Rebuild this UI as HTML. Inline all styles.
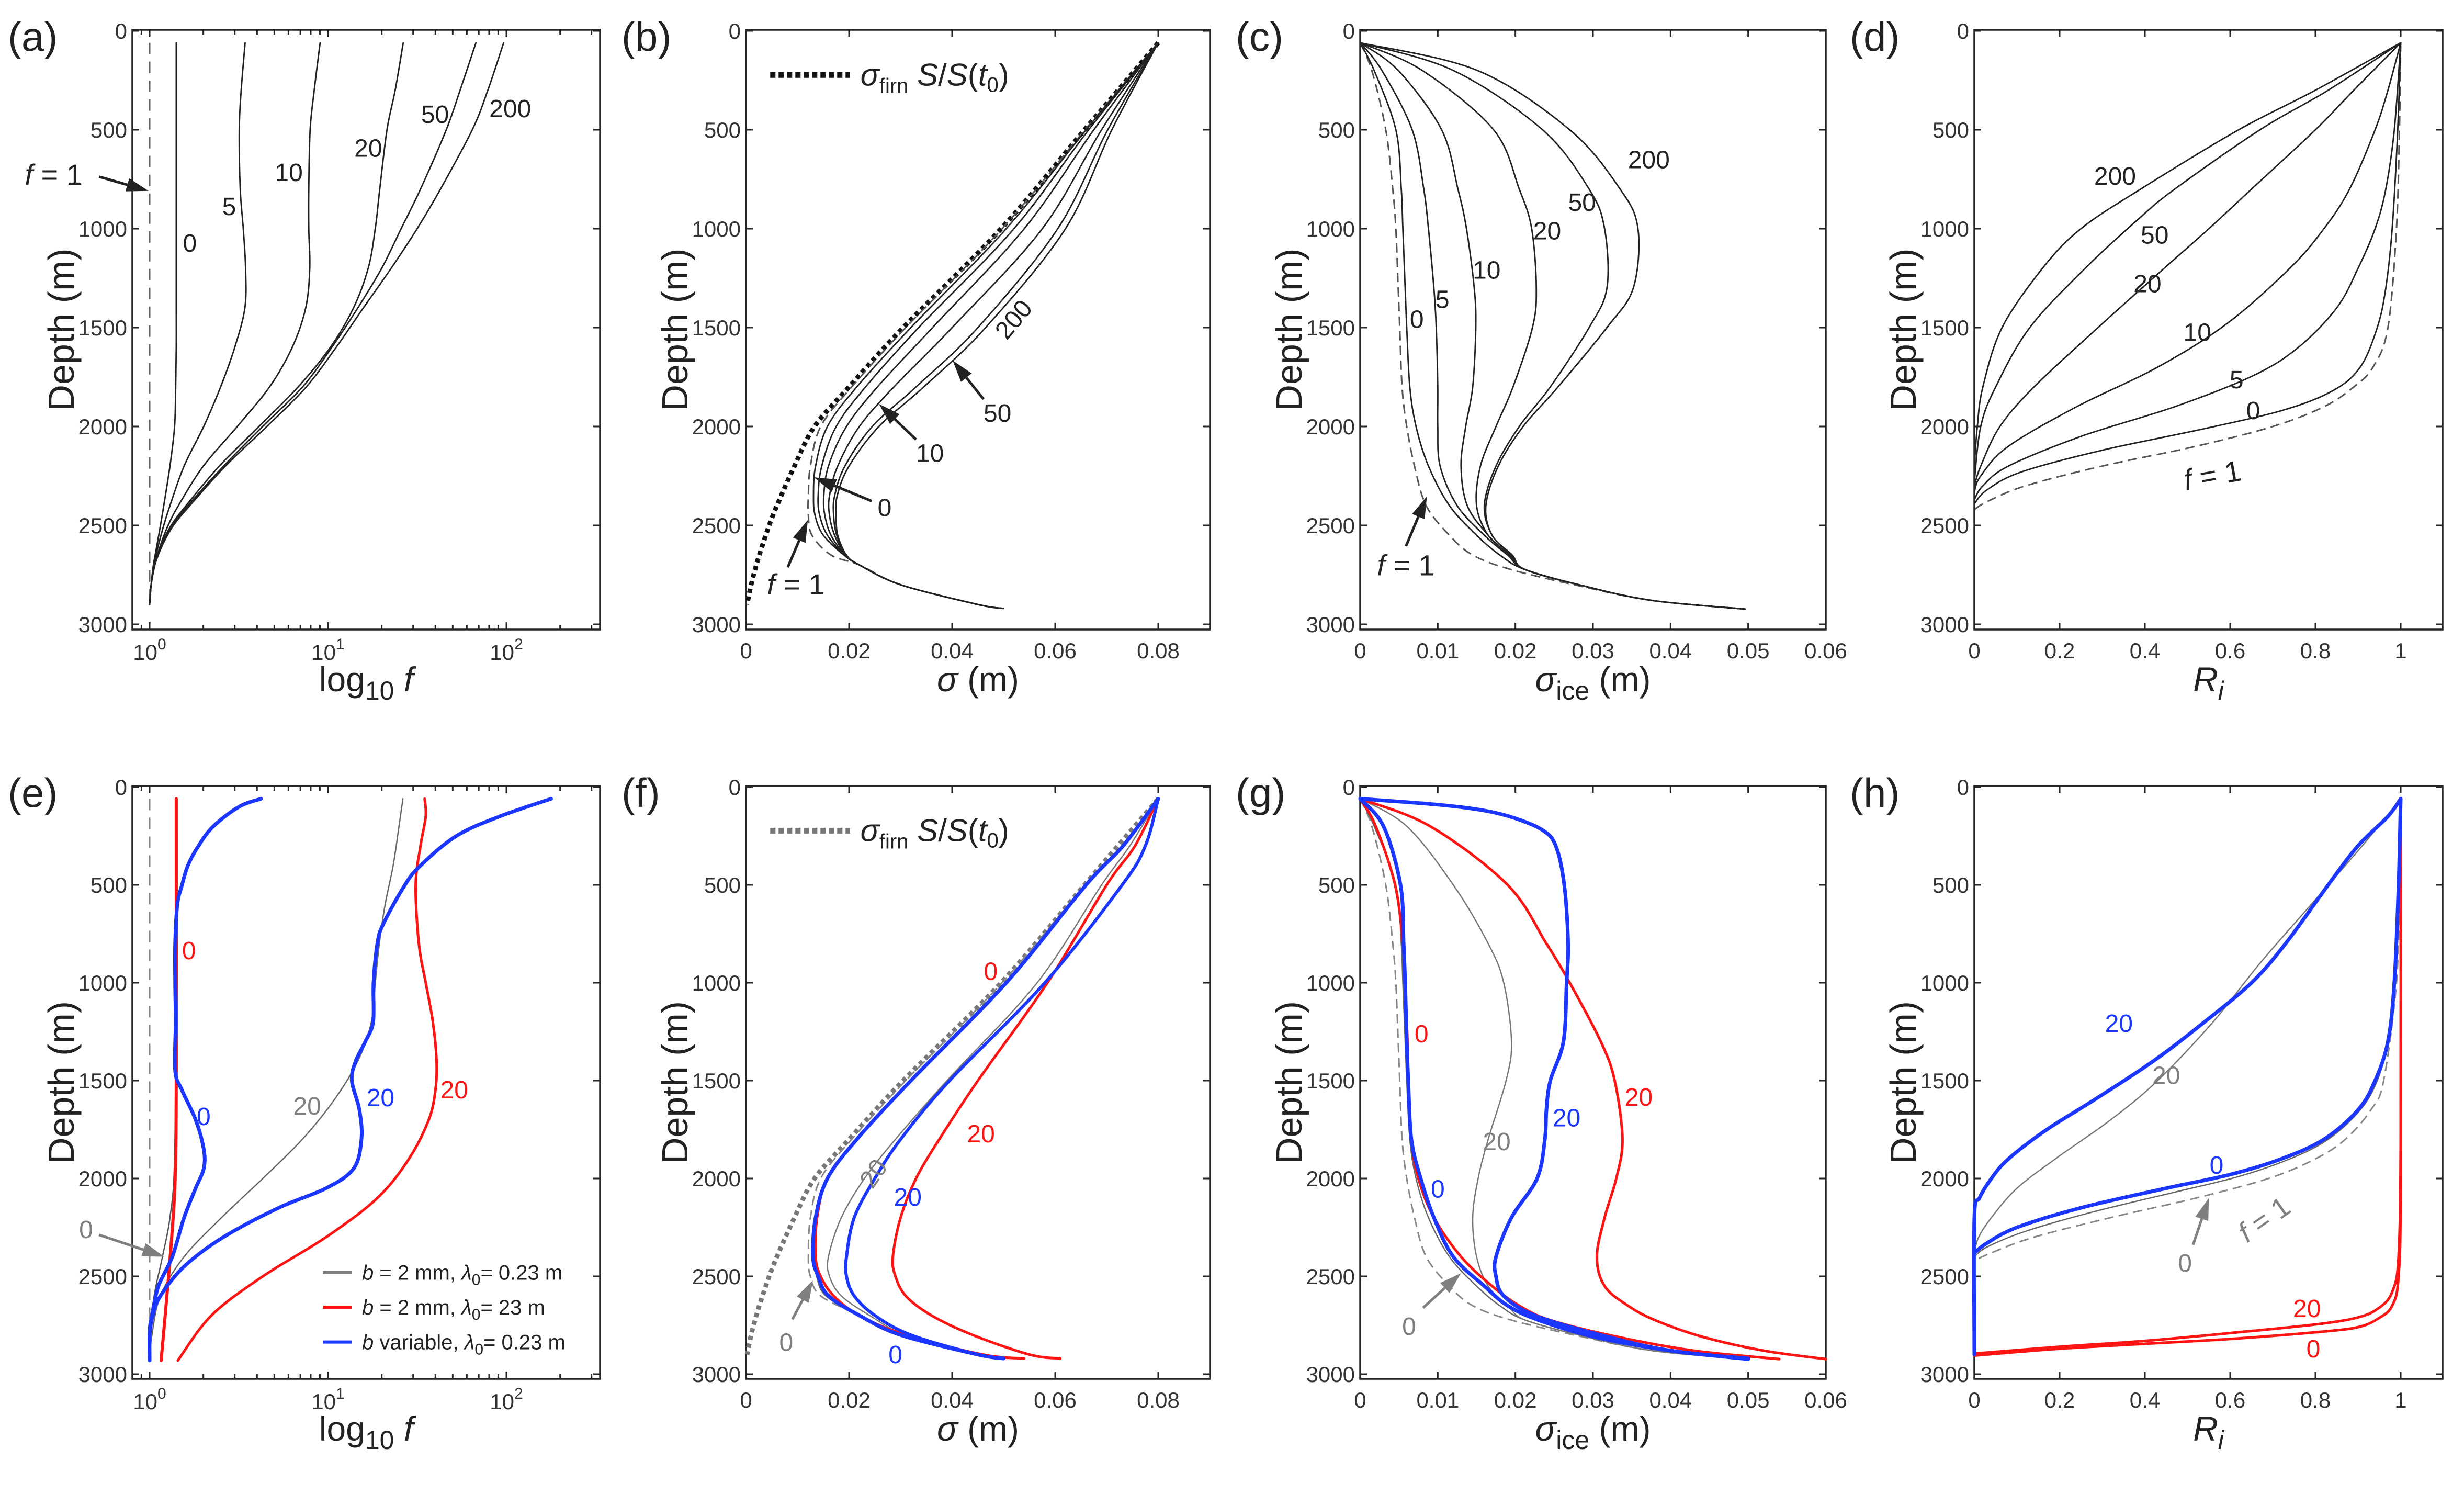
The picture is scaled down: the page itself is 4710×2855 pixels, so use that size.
<!DOCTYPE html>
<html><head><meta charset="utf-8"><title>Depth profiles</title>
<style>
html,body{margin:0;padding:0;background:#fff;}
svg{display:block;font-family:"Liberation Sans",Arial,sans-serif;}
</style></head>
<body>
<svg id="chart" xmlns="http://www.w3.org/2000/svg" width="4710" height="2855" viewBox="0 0 4710 2855"></svg>
<script>
// ---------- DATA ----------
// Panel (a): f vs depth
const aDepth=[60,300,500,800,1000,1200,1400,1600,1800,2000,2200,2400,2500,2600,2700,2800,2900];
const aF1=[1,1,1,1,1,1,1,1,1,1,1,1,1,1,1,1,1];
const aF0=[1.41,1.41,1.41,1.41,1.41,1.41,1.41,1.41,1.40,1.38,1.30,1.20,1.15,1.10,1.05,1.02,1.0];
const aF5=[3.43,3.26,3.18,3.22,3.35,3.45,3.42,3.0,2.5,2.01,1.56,1.30,1.2,1.12,1.06,1.02,1.0];
const aF10=[9.03,8.37,7.94,7.8,7.8,7.9,7.5,6.3,4.7,3.1,2.0,1.45,1.27,1.15,1.07,1.02,1.0];
const aF20=[26.4,23.8,21.4,19.5,18.4,16.8,13.9,10.3,6.8,4.1,2.46,1.6,1.32,1.16,1.07,1.02,1.0];
const aF50=[67.5,55,46,33,25.7,20,14.7,10.5,7.2,4.3,2.6,1.64,1.34,1.17,1.07,1.02,1.0];
const aF200=[96.5,78.7,64.4,42.7,31.6,22.6,15.8,11.1,7.55,4.54,2.66,1.68,1.36,1.18,1.07,1.02,1.0];
// Panel (b): sigma
const firnDepth=[60,500,1000,1500,1800,2000,2200,2400,2500,2600,2700,2800,2900];
const firnSigma=[0.080,0.0657,0.0495,0.0305,0.020,0.0133,0.0094,0.0060,0.0045,0.0032,0.0020,0.0010,0.0002];
const bDepth=[60,500,1000,1500,1800,2000,2200,2350,2450,2550,2650,2700,2800,2900,2920];
const bF1=[0.08,0.0658,0.0497,0.031,0.0205,0.0145,0.0125,0.0121,0.0121,0.0128,0.0165,0.022,0.030,0.045,0.050];
const bF0=[0.08,0.066,0.0505,0.032,0.0215,0.0158,0.0135,0.0131,0.0134,0.015,0.019,0.022,0.030,0.045,0.050];
const bF5=[0.08,0.0665,0.052,0.0335,0.0232,0.0175,0.0147,0.014,0.0143,0.0158,0.0191,0.022,0.030,0.045,0.050];
const bF10=[0.08,0.0675,0.054,0.0362,0.0255,0.0195,0.016,0.0151,0.0153,0.0165,0.0192,0.022,0.030,0.045,0.050];
const bF20=[0.08,0.069,0.0575,0.040,0.0287,0.022,0.0178,0.0162,0.0162,0.0172,0.0193,0.022,0.030,0.045,0.050];
const bF50=[0.08,0.0702,0.0605,0.045,0.033,0.0245,0.0192,0.0172,0.017,0.0176,0.0194,0.022,0.030,0.045,0.050];
const bF200=[0.08,0.071,0.062,0.0465,0.0345,0.0258,0.0200,0.0177,0.0175,0.0178,0.0195,0.022,0.030,0.045,0.050];
// Panel (c): sigma_ice
const cDepth=[60,200,500,800,1000,1300,1500,1800,2000,2200,2400,2550,2650,2724,2808,2880,2923];
const cF1=[0,0.0015,0.0033,0.0042,0.0046,0.0049,0.0051,0.0054,0.006,0.0070,0.0085,0.0115,0.0145,0.0195,0.0285,0.0377,0.0496];
const cF0=[0,0.0018,0.0046,0.0053,0.0055,0.0058,0.006,0.0064,0.0072,0.0088,0.0115,0.015,0.018,0.0213,0.029,0.0377,0.0496];
const cF5=[0,0.0028,0.0067,0.0082,0.0088,0.0095,0.0098,0.0100,0.0100,0.0103,0.0125,0.016,0.019,0.0213,0.029,0.0377,0.0496];
const cF10=[0,0.0049,0.0105,0.0126,0.0137,0.0147,0.0149,0.0145,0.0136,0.013,0.0138,0.0165,0.0192,0.0213,0.029,0.0377,0.0496];
const cF20=[0,0.008,0.0172,0.0205,0.0221,0.0227,0.0222,0.0197,0.0175,0.0155,0.015,0.0165,0.0193,0.0213,0.029,0.0377,0.0496];
const cF50=[0,0.012,0.0235,0.0295,0.0315,0.0318,0.0295,0.0245,0.0205,0.0175,0.016,0.017,0.0195,0.0213,0.029,0.0377,0.0496];
const cF200=[0,0.0151,0.027,0.0335,0.0358,0.0352,0.0318,0.0255,0.021,0.0178,0.0162,0.017,0.0196,0.0213,0.029,0.0377,0.0496];
// Panel (d): R_i
const dD200=[60,300,500,800,1000,1200,1500,1800,2000,2200];
const dR200=[1,0.8,0.62,0.39,0.25,0.16,0.065,0.02,0.007,0];
const dD50=[60,300,500,800,953,1200,1500,1800,2000,2280];
const dR50=[1,0.83,0.67,0.47,0.384,0.26,0.13,0.05,0.015,0];
const dD20=[60,300,500,800,1000,1216,1500,1800,2000,2200,2300];
const dR20=[1,0.89,0.80,0.65,0.55,0.437,0.29,0.14,0.06,0.015,0];
const dD10=[60,300,500,800,1000,1200,1479,1700,1900,2100,2250,2330];
const dR10=[1,0.97,0.94,0.88,0.82,0.74,0.593,0.43,0.24,0.08,0.015,0];
const dD5=[60,500,800,1000,1200,1400,1600,1743,1900,2050,2200,2300,2370];
const dR5=[1,0.985,0.965,0.94,0.9,0.85,0.76,0.654,0.47,0.25,0.08,0.02,0];
const dD0=[60,500,1000,1300,1500,1700,1820,1920,2020,2120,2230,2320,2390];
const dR0=[1,0.993,0.98,0.965,0.945,0.905,0.84,0.72,0.52,0.3,0.11,0.03,0];
const dDF1=[60,500,1000,1500,1700,1800,1900,2000,2100,2200,2300,2380,2420];
const dRF1=[1,0.997,0.99,0.97,0.935,0.89,0.82,0.7,0.52,0.3,0.12,0.03,0];
// Panel (e)
const eDepth=[60,150,300,500,800,1000,1200,1400,1550,1700,1900,2100,2300,2500,2700,2930];
const eRed20=[34.8,35.3,33,31,32.3,35.3,38.7,40.6,40,36.7,28.4,18.9,9.75,4.31,2.22,1.44];
const eRed0D=[60,1500,2000,2300,2600,2930];
const eRed0=[1.41,1.41,1.39,1.33,1.25,1.16];
const eGray0D=[60,1000,1900,2200,2400,2600,2800,2930];
const eGray0=[1.41,1.41,1.38,1.3,1.18,1.06,1.01,1.0];
const eGray20D=[60,200,400,600,800,1000,1200,1400,1600,1800,2000,2200,2400,2600,2800,2930];
const eGray20=[26.3,25,23.2,20.9,19.4,18.4,17.5,14.7,10.8,7.18,4.31,2.53,1.56,1.15,1.03,1.0];
const eBlue0D=[60,100,200,300,400,500,600,800,1000,1200,1450,1550,1700,1850,1950,2050,2200,2400,2550,2700,2780,2930];
const eBlue0=[4.21,3.18,2.28,1.88,1.64,1.52,1.43,1.39,1.39,1.40,1.39,1.52,1.81,2.01,2.01,1.81,1.56,1.34,1.12,1.03,1.0,1.0];
const eBlue20D=[60,150,250,400,500,700,800,1000,1200,1300,1400,1500,1650,1800,1950,2050,2150,2300,2450,2600,2700,2800,2930];
const eBlue20=[178,91.7,52.4,33.1,27,20.4,18.9,18,17.9,16.2,14.3,13.6,15,15.4,13.9,9.75,5.29,2.59,1.56,1.15,1.04,1.0,1.0];
// Panel (f)
const fDepth=[60,300,500,1000,1500,1800,2000,2200,2400,2500,2600,2700,2800,2900,2920];
const fGrayDash=[0.08,0.073,0.0658,0.0497,0.031,0.0205,0.0145,0.0125,0.0121,0.0125,0.0145,0.022,0.030,0.045,0.050];
const fGray0=[0.08,0.0732,0.066,0.0505,0.032,0.0215,0.0158,0.0135,0.0132,0.0137,0.0155,0.022,0.030,0.045,0.050];
const fGray20=[0.08,0.0745,0.069,0.0565,0.039,0.029,0.023,0.0185,0.016,0.0162,0.0185,0.024,0.031,0.045,0.050];
const fRed0=[0.08,0.0732,0.066,0.0505,0.032,0.0215,0.0158,0.0138,0.0135,0.0145,0.017,0.022,0.031,0.046,0.054];
const fRed20=[0.08,0.0755,0.070,0.0585,0.045,0.0375,0.033,0.030,0.0285,0.029,0.031,0.036,0.044,0.055,0.061];
const fBlue0=[0.08,0.0732,0.066,0.0505,0.032,0.0215,0.0158,0.0135,0.013,0.014,0.016,0.022,0.030,0.045,0.050];
const fBlue20=[0.08,0.0775,0.073,0.058,0.0395,0.030,0.025,0.021,0.0195,0.0195,0.021,0.025,0.032,0.045,0.050];
// Panel (g)
const gRed0=[0,0.002,0.0045,0.0055,0.0058,0.0061,0.0062,0.0066,0.0075,0.0095,0.013,0.017,0.0205,0.0245,0.033,0.043,0.054];
const gRed20=[0,0.009,0.019,0.024,0.027,0.031,0.0328,0.0338,0.033,0.0315,0.0305,0.0315,0.0345,0.038,0.044,0.052,0.060];
const gGray20=[0,0.006,0.012,0.0165,0.0185,0.0195,0.0188,0.0165,0.0152,0.0145,0.015,0.0165,0.019,0.0213,0.029,0.0377,0.0496];
const gBlue0=[0,0.003,0.0052,0.0056,0.0058,0.006,0.0062,0.0066,0.0078,0.0095,0.012,0.016,0.019,0.023,0.030,0.040,0.050];
const gBlue20D=[60,90,120,160,220,300,500,800,1000,1300,1500,1650,1800,2000,2200,2400,2500,2600,2700,2800,2880,2920];
const gBlue20=[0,0.010,0.016,0.020,0.0235,0.0252,0.0263,0.0268,0.0266,0.0262,0.0245,0.024,0.0238,0.0228,0.0195,0.0175,0.0175,0.0185,0.0225,0.031,0.040,0.050];
// Panel (h)
const hBlue20D=[60,150,300,500,800,1000,1200,1400,1600,1750,1900,2000,2100,2200,2900];
const hBlue20=[1,0.97,0.9,0.83,0.73,0.65,0.54,0.42,0.28,0.17,0.08,0.04,0.012,0,0];
const hGray20D=[60,300,600,900,1200,1500,1700,1900,2050,2200,2300,2380];
const hGray20=[1,0.91,0.79,0.67,0.56,0.43,0.32,0.19,0.10,0.04,0.01,0];
const hBlue0D=[60,500,1000,1300,1500,1650,1800,1900,1980,2050,2150,2250,2330,2380];
const hBlue0=[1,0.995,0.985,0.97,0.94,0.9,0.82,0.72,0.6,0.45,0.25,0.1,0.03,0];
const hGray0D=[60,500,1000,1300,1500,1650,1800,1900,1990,2070,2170,2270,2350,2400];
const hGray0=[1,0.995,0.985,0.97,0.945,0.905,0.83,0.74,0.62,0.47,0.28,0.12,0.03,0];
const hDashD=[60,500,1000,1500,1650,1800,1900,2000,2100,2200,2300,2380,2420];
const hDash=[1,0.997,0.99,0.96,0.93,0.87,0.8,0.69,0.52,0.32,0.14,0.04,0];
const hRed0D=[60,2000,2500,2650,2712,2760,2786,2820,2845,2870,2905];
const hRed0=[1,1,0.995,0.98,0.95,0.9,0.8,0.6,0.4,0.2,0];
const hRed20D=[60,1800,2400,2580,2660,2710,2746,2790,2830,2860,2895];
const hRed20=[1,1,0.995,0.98,0.95,0.9,0.8,0.6,0.4,0.2,0];
// Tick labels
const depthTicks=[0,500,1000,1500,2000,2500,3000];
const sigmaTicks=[0,0.02,0.04,0.06,0.08];
const iceTicks=[0,0.01,0.02,0.03,0.04,0.05,0.06];
const riTicks=[0,0.2,0.4,0.6,0.8,1];
const logMajor=[1,10,100];
const logMinor=[0.9,2,3,4,5,6,7,8,9,20,30,40,50,60,70,80,90,200,300];

// ---------- HELPERS ----------
const NS='http://www.w3.org/2000/svg';
const svg=document.getElementById('chart');
function mk(tag,attrs,parent){const e=document.createElementNS(NS,tag);for(const k in attrs)e.setAttribute(k,attrs[k]);(parent||svg).appendChild(e);return e;}
const ROWS=[{top:57,y0:59,y3:1193,bot:1203},{top:1502,y0:1504,y3:2626,bot:2635}];
const COLS=[
 {left:253,right:1147,fx:v=>286+341*Math.log10(v),type:'log'},
 {left:1426,right:2313,fx:v=>1426+9850*v,type:'sig'},
 {left:2600,right:3490,fx:v=>2600+14833*v,type:'ice'},
 {left:3774,right:4669,fx:v=>3774+815*v,type:'ri'}];
function fyOf(row){return d=>row.y0+d*(row.y3-row.y0)/3000;}
function pathD(pts){
 if(pts.length<2)return '';
 let d='M'+pts[0][0].toFixed(1)+','+pts[0][1].toFixed(1);
 for(let i=0;i<pts.length-1;i++){
  const p0=pts[Math.max(0,i-1)],p1=pts[i],p2=pts[i+1],p3=pts[Math.min(pts.length-1,i+2)];
  const c1x=p1[0]+(p2[0]-p0[0])/6,c1y=p1[1]+(p2[1]-p0[1])/6;
  const c2x=p2[0]-(p3[0]-p1[0])/6,c2y=p2[1]-(p3[1]-p1[1])/6;
  d+=' C'+c1x.toFixed(1)+','+c1y.toFixed(1)+' '+c2x.toFixed(1)+','+c2y.toFixed(1)+' '+p2[0].toFixed(1)+','+p2[1].toFixed(1);
 }
 return d;
}
function series(g,P,depths,vals,stroke,width,dash,name){
 const pts=depths.map((d,i)=>[P.fx(vals[i]),P.fy(d)]);
 const p=mk('path',{d:pathD(pts),fill:'none',stroke:stroke,'stroke-width':width,'stroke-linejoin':'round','stroke-linecap':dash?'butt':'round'},g);
 if(dash)p.setAttribute('stroke-dasharray',dash);
 
 
 return p;
}
function label(g,P,v,d,txt,color,size,name,rot){
 const x=P.fx(v),y=P.fy(d);
 const t=mk('text',{x:x,y:y,'text-anchor':'middle','dominant-baseline':'central','font-size':size,fill:color},g);
 if(rot)t.setAttribute('transform','rotate('+rot+' '+x+' '+y+')');
 t.textContent=txt;
 
 
 return t;
}
function f1label(g,P,v,d,color,size,name,rot){
 const x=P.fx(v),y=P.fy(d);
 const t=mk('text',{x:x,y:y,'text-anchor':'middle','dominant-baseline':'central','font-size':size,fill:color},g);
 if(rot)t.setAttribute('transform','rotate('+rot+' '+x+' '+y+')');
 const a=mk('tspan',{'font-style':'italic'},t);a.textContent='f';
 const b=mk('tspan',{},t);b.textContent=' = 1';
 
 
}
function arrow(g,P,v1,d1,v2,d2,color,name){
 const x1=P.fx(v1),y1=P.fy(d1),x2=P.fx(v2),y2=P.fy(d2);
 const ang=Math.atan2(y2-y1,x2-x1),L=42,Wd=13;
 const bx=x2-L*Math.cos(ang),by=y2-L*Math.sin(ang);
 const grp=mk('g',{},g);
 
 
 mk('line',{x1:x1,y1:y1,x2:bx,y2:by,stroke:color,'stroke-width':5},grp);
 mk('polygon',{points:x2+','+y2+' '+(bx+Wd*Math.sin(ang))+','+(by-Wd*Math.cos(ang))+' '+(bx-Wd*Math.sin(ang))+','+(by+Wd*Math.cos(ang)),fill:color},grp);
}
function axes(P,ci,ri,letter){
 const g=mk('g',{});
 
 
 P.g=g;
 const box=mk('rect',{x:P.left,y:P.top,width:P.right-P.left,height:P.bot-P.top,fill:'none',stroke:'#262626','stroke-width':3.5},g);
 
 
 const tk=mk('g',{stroke:'#262626','stroke-width':3},g);
 
 
 const tl=mk('g',{'font-size':42,fill:'#333'},g);
 
 
 depthTicks.forEach(d=>{const y=P.fy(d);
  mk('line',{x1:P.left,y1:y,x2:P.left+13,y2:y},tk);mk('line',{x1:P.right,y1:y,x2:P.right-13,y2:y},tk);
  const t=mk('text',{x:P.left-10,y:y+15,'text-anchor':'end'},tl);t.textContent=d;});
 let xt;
 if(P.type==='log'){
  logMinor.forEach(v=>{const x=P.fx(v);mk('line',{x1:x,y1:P.bot,x2:x,y2:P.bot-9},tk);mk('line',{x1:x,y1:P.top,x2:x,y2:P.top+9},tk);});
  logMajor.forEach((v,i)=>{const x=P.fx(v);mk('line',{x1:x,y1:P.bot,x2:x,y2:P.bot-14},tk);mk('line',{x1:x,y1:P.top,x2:x,y2:P.top+14},tk);
   const t=mk('text',{x:x,y:P.bot+58,'text-anchor':'middle'},tl);const a=mk('tspan',{},t);a.textContent='10';const b=mk('tspan',{dy:-20,'font-size':30},t);b.textContent=String(i);});
 } else {
  xt=P.type==='sig'?sigmaTicks:(P.type==='ice'?iceTicks:riTicks);
  xt.forEach(v=>{const x=P.fx(v);mk('line',{x1:x,y1:P.bot,x2:x,y2:P.bot-13},tk);mk('line',{x1:x,y1:P.top,x2:x,y2:P.top+13},tk);
   const t=mk('text',{x:x,y:P.bot+55,'text-anchor':'middle'},tl);t.textContent=String(v);});
 }
 const pl=mk('text',{x:P.left-238,y:P.top+40,'font-size':78,fill:'#222'},g);
 pl.textContent='('+letter+')';
 
 
 const cy=(P.top+P.bot)/2,lx=P.left-112;
 const yl=mk('text',{x:lx,y:cy,'text-anchor':'middle','font-size':70,fill:'#222',transform:'rotate(-90 '+lx+' '+cy+')'},g);
 yl.textContent='Depth (m)';
 
 
 const cx=(P.left+P.right)/2,by=P.bot+118;
 const xl=mk('text',{x:cx,y:by,'text-anchor':'middle','font-size':66,fill:'#222'},g);
 
 
 if(P.type==='log'){const a=mk('tspan',{},xl);a.textContent='log';const b=mk('tspan',{dy:16,'font-size':50},xl);b.textContent='10';const c=mk('tspan',{dy:-16,'font-style':'italic'},xl);c.textContent=' f';}
 else if(P.type==='sig'){const a=mk('tspan',{'font-style':'italic'},xl);a.textContent='σ';const b=mk('tspan',{},xl);b.textContent=' (m)';}
 else if(P.type==='ice'){const a=mk('tspan',{'font-style':'italic'},xl);a.textContent='σ';const b=mk('tspan',{dy:16,'font-size':50},xl);b.textContent='ice';const c=mk('tspan',{dy:-16},xl);c.textContent=' (m)';}
 else {const a=mk('tspan',{'font-style':'italic'},xl);a.textContent='R';const b=mk('tspan',{dy:16,'font-size':50,'font-style':'italic'},xl);b.textContent='i';}
 return g;
}
function panel(ci,ri,letter){
 const C=COLS[ci],R=ROWS[ri];
 const P={left:C.left,right:C.right,fx:C.fx,type:C.type,top:R.top,bot:R.bot,fy:fyOf(R)};
 axes(P,ci,ri,letter);
 return P;
}
function firnLegend(P,color){
 const g=mk('g',{},P.g);
 
 
 const y=P.fy(223);
 mk('line',{x1:P.fx(0.0047),y1:y,x2:P.fx(0.0202),y2:y,stroke:color,'stroke-width':11,'stroke-dasharray':'10 6'},g);
 const t=mk('text',{x:P.fx(0.0222),y:y+20,'font-size':60,fill:'#222'},g);
 const a=mk('tspan',{'font-style':'italic'},t);a.textContent='σ';
 const b=mk('tspan',{dy:14,'font-size':40},t);b.textContent='firn';
 const c=mk('tspan',{dy:-14,'font-style':'italic'},t);c.textContent=' S';
 const d=mk('tspan',{},t);d.textContent='/';
 const e=mk('tspan',{'font-style':'italic'},t);e.textContent='S';
 const f=mk('tspan',{},t);f.textContent='(';
 const h=mk('tspan',{'font-style':'italic'},t);h.textContent='t';
 const i=mk('tspan',{dy:12,'font-size':40},t);i.textContent='0';
 const j=mk('tspan',{dy:-12},t);j.textContent=')';
}
const K='#222',GR='#7f7f7f',RD='#ff1414',BL='#1a36ff';

// ---------- (a) ----------
let P=panel(0,0,'a');
series(P.g,P,aDepth,aF1,'#666',3,'22 14','line-f1');
[[aF0,'0'],[aF5,'5'],[aF10,'10'],[aF20,'20'],[aF50,'50'],[aF200,'200']].forEach(s=>series(P.g,P,aDepth,s[0],K,2.8,null,'line-f'+s[1]));
label(P.g,P,1.68,1075,'0',K,48,'label-0');label(P.g,P,2.79,890,'5',K,48,'label-5');
label(P.g,P,6.03,718,'10',K,48,'label-10');label(P.g,P,16.8,595,'20',K,48,'label-20');
label(P.g,P,39.8,425,'50',K,48,'label-50');label(P.g,P,105,395,'200',K,48,'label-200');
f1label(P.g,P,0.29,725,K,56,'label-f1');
arrow(P.g,P,0.52,737,0.985,809,K,'arrow-f1');

// ---------- (b) ----------
P=panel(1,0,'b');
series(P.g,P,firnDepth,firnSigma,'#111',9,'8 7','line-firn');
series(P.g,P,bDepth,bF1,'#555',3,'18 10','line-f1');
[[bF0,'0'],[bF5,'5'],[bF10,'10'],[bF20,'20'],[bF50,'50'],[bF200,'200']].forEach(s=>series(P.g,P,bDepth,s[0],K,2.8,null,'line-f'+s[1]));
firnLegend(P,'#111');
label(P.g,P,0.052,1460,'200',K,48,'label-200',-50);
label(P.g,P,0.0488,1935,'50',K,48,'label-50');arrow(P.g,P,0.0461,1862,0.0401,1666,K,'arrow-50');
label(P.g,P,0.0357,2138,'10',K,48,'label-10');arrow(P.g,P,0.033,2066,0.0258,1886,K,'arrow-10');
label(P.g,P,0.0269,2413,'0',K,48,'label-0');arrow(P.g,P,0.0244,2377,0.0132,2257,K,'arrow-0');
f1label(P.g,P,0.0097,2796,K,56,'label-f1');arrow(P.g,P,0.0081,2712,0.012,2473,K,'arrow-f1');

// ---------- (c) ----------
P=panel(2,0,'c');
series(P.g,P,cDepth,cF1,'#555',3,'18 10','line-f1');
[[cF0,'0'],[cF5,'5'],[cF10,'10'],[cF20,'20'],[cF50,'50'],[cF200,'200']].forEach(s=>series(P.g,P,cDepth,s[0],K,2.8,null,'line-f'+s[1]));
label(P.g,P,0.0372,654,'200',K,48,'label-200');label(P.g,P,0.0286,869,'50',K,48,'label-50');
label(P.g,P,0.0241,1013,'20',K,48,'label-20');label(P.g,P,0.0163,1211,'10',K,48,'label-10');
label(P.g,P,0.0106,1360,'5',K,48,'label-5');label(P.g,P,0.0073,1460,'0',K,48,'label-0');
f1label(P.g,P,0.0059,2700,K,56,'label-f1');arrow(P.g,P,0.0059,2605,0.0086,2353,K,'arrow-f1');

// ---------- (d) ----------
P=panel(3,0,'d');
series(P.g,P,dDF1,dRF1,'#555',3,'18 10','line-f1');
[[dD0,dR0,'0'],[dD5,dR5,'5'],[dD10,dR10,'10'],[dD20,dR20,'20'],[dD50,dR50,'50'],[dD200,dR200,'200']].forEach(s=>series(P.g,P,s[0],s[1],K,2.8,null,'line-f'+s[2]));
label(P.g,P,0.33,737,'200',K,48,'label-200');label(P.g,P,0.423,1035,'50',K,48,'label-50');
label(P.g,P,0.406,1280,'20',K,48,'label-20');label(P.g,P,0.523,1527,'10',K,48,'label-10');
label(P.g,P,0.615,1766,'5',K,48,'label-5');label(P.g,P,0.654,1922,'0',K,48,'label-0');
f1label(P.g,P,0.558,2245,K,56,'label-f1',-10);

// ---------- (e) ----------
P=panel(0,1,'e');
series(P.g,P,aDepth,aF1,'#888',3,'22 14','line-f1');
series(P.g,P,eGray0D,eGray0,'#555',2.5,null,'gray-0');
series(P.g,P,eGray20D,eGray20,'#666',2.5,null,'gray-20');
series(P.g,P,eRed0D,eRed0,RD,6,null,'red-0');
series(P.g,P,eDepth,eRed20,RD,5,null,'red-20');
series(P.g,P,eBlue0D,eBlue0,BL,7,null,'blue-0');
series(P.g,P,eBlue20D,eBlue20,BL,7,null,'blue-20');
label(P.g,P,1.66,838,'0',RD,48,'label-red-0');label(P.g,P,2.01,1686,'0',BL,48,'label-blue-0');
label(P.g,P,7.64,1632,'20',GR,48,'label-gray-20');label(P.g,P,19.7,1589,'20',BL,48,'label-blue-20');
label(P.g,P,51,1550,'20',RD,48,'label-red-20');label(P.g,P,0.44,2264,'0',GR,48,'label-gray-0');
arrow(P.g,P,0.52,2288,1.21,2400,GR,'arrow-gray-0');
(function(){
 const lg=mk('g',{},P.g);
 
 
 const items=[[GR,'2 mm','0.23 m',false],[RD,'2 mm','23 m',false],[BL,'','0.23 m',true]];
 const depths=[2480,2658,2836];
 items.forEach((it,i)=>{
  const y=P.fy(depths[i]);
  const ln=mk('line',{x1:617,y1:y,x2:672,y2:y,stroke:it[0],'stroke-width':6},lg);
  
  
  const t=mk('text',{x:692,y:y+14,'font-size':40,fill:'#222'},lg);
  
  
  const a=mk('tspan',{'font-style':'italic'},t);a.textContent='b';
  const b=mk('tspan',{},t);b.textContent=it[3]?' variable, ':' = '+it[1]+', ';
  const c=mk('tspan',{'font-style':'italic'},t);c.textContent='λ';
  const d=mk('tspan',{dy:10,'font-size':30},t);d.textContent='0';
  const e=mk('tspan',{dy:-10},t);e.textContent='= '+it[2];
 });
})();

// ---------- (f) ----------
P=panel(1,1,'f');
series(P.g,P,firnDepth,firnSigma,'#777',9,'8 7','line-firn');
series(P.g,P,fDepth,fGrayDash,'#888',3,'18 10','gray-f1');
series(P.g,P,fDepth,fGray0,'#666',2.5,null,'gray-0');
series(P.g,P,fDepth,fGray20,'#777',2.5,null,'gray-20');
series(P.g,P,fDepth,fRed0,RD,5,null,'red-0');
series(P.g,P,fDepth,fRed20,RD,5,null,'red-20');
series(P.g,P,fDepth,fBlue0,BL,7,null,'blue-0');
series(P.g,P,fDepth,fBlue20,BL,6,null,'blue-20');
firnLegend(P,'#777');
label(P.g,P,0.0475,944,'0',RD,48,'label-red-0');label(P.g,P,0.0456,1774,'20',RD,48,'label-red-20');
label(P.g,P,0.0314,2097,'20',BL,48,'label-blue-20');label(P.g,P,0.029,2903,'0',BL,48,'label-blue-0');
label(P.g,P,0.0248,1976,'20',GR,48,'label-gray-20',-55);label(P.g,P,0.0078,2839,'0',GR,48,'label-gray-0');
arrow(P.g,P,0.009,2720,0.013,2520,GR,'arrow-gray-0');

// ---------- (g) ----------
P=panel(2,1,'g');
series(P.g,P,cDepth,cF1,'#888',3,'18 10','gray-f1');
series(P.g,P,cDepth,cF0,'#666',2.5,null,'gray-0');
series(P.g,P,cDepth,gGray20,'#777',2.5,null,'gray-20');
series(P.g,P,cDepth,gRed0,RD,5,null,'red-0');
series(P.g,P,cDepth,gRed20,RD,5,null,'red-20');
series(P.g,P,cDepth,gBlue0,BL,7,null,'blue-0');
series(P.g,P,gBlue20D,gBlue20,BL,7,null,'blue-20');
label(P.g,P,0.0079,1264,'0',RD,48,'label-red-0');label(P.g,P,0.0359,1587,'20',RD,48,'label-red-20');
label(P.g,P,0.0266,1693,'20',BL,48,'label-blue-20');label(P.g,P,0.010,2056,'0',BL,48,'label-blue-0');
label(P.g,P,0.0176,1814,'20',GR,48,'label-gray-20');label(P.g,P,0.0063,2758,'0',GR,48,'label-gray-0');
arrow(P.g,P,0.0081,2661,0.013,2484,GR,'arrow-gray-0');

// ---------- (h) ----------
P=panel(3,1,'h');
series(P.g,P,hDashD,hDash,'#888',3,'18 10','gray-f1');
series(P.g,P,hGray0D,hGray0,'#666',2.5,null,'gray-0');
series(P.g,P,hGray20D,hGray20,'#777',2.5,null,'gray-20');
series(P.g,P,hRed0D,hRed0,RD,5,null,'red-0');
series(P.g,P,hRed20D,hRed20,RD,5,null,'red-20');
series(P.g,P,hBlue0D,hBlue0,BL,7,null,'blue-0');
series(P.g,P,hBlue20D,hBlue20,BL,7,null,'blue-20');
label(P.g,P,0.339,1210,'20',BL,48,'label-blue-20');label(P.g,P,0.45,1476,'20',GR,48,'label-gray-20');
label(P.g,P,0.568,1935,'0',BL,48,'label-blue-0');label(P.g,P,0.494,2435,'0',GR,48,'label-gray-0');
arrow(P.g,P,0.513,2339,0.55,2100,GR,'arrow-gray-0');
f1label(P.g,P,0.68,2210,GR,54,'label-f1',-35);
label(P.g,P,0.78,2667,'20',RD,48,'label-red-20');label(P.g,P,0.795,2873,'0',RD,48,'label-red-0');
</script>
</body></html>
